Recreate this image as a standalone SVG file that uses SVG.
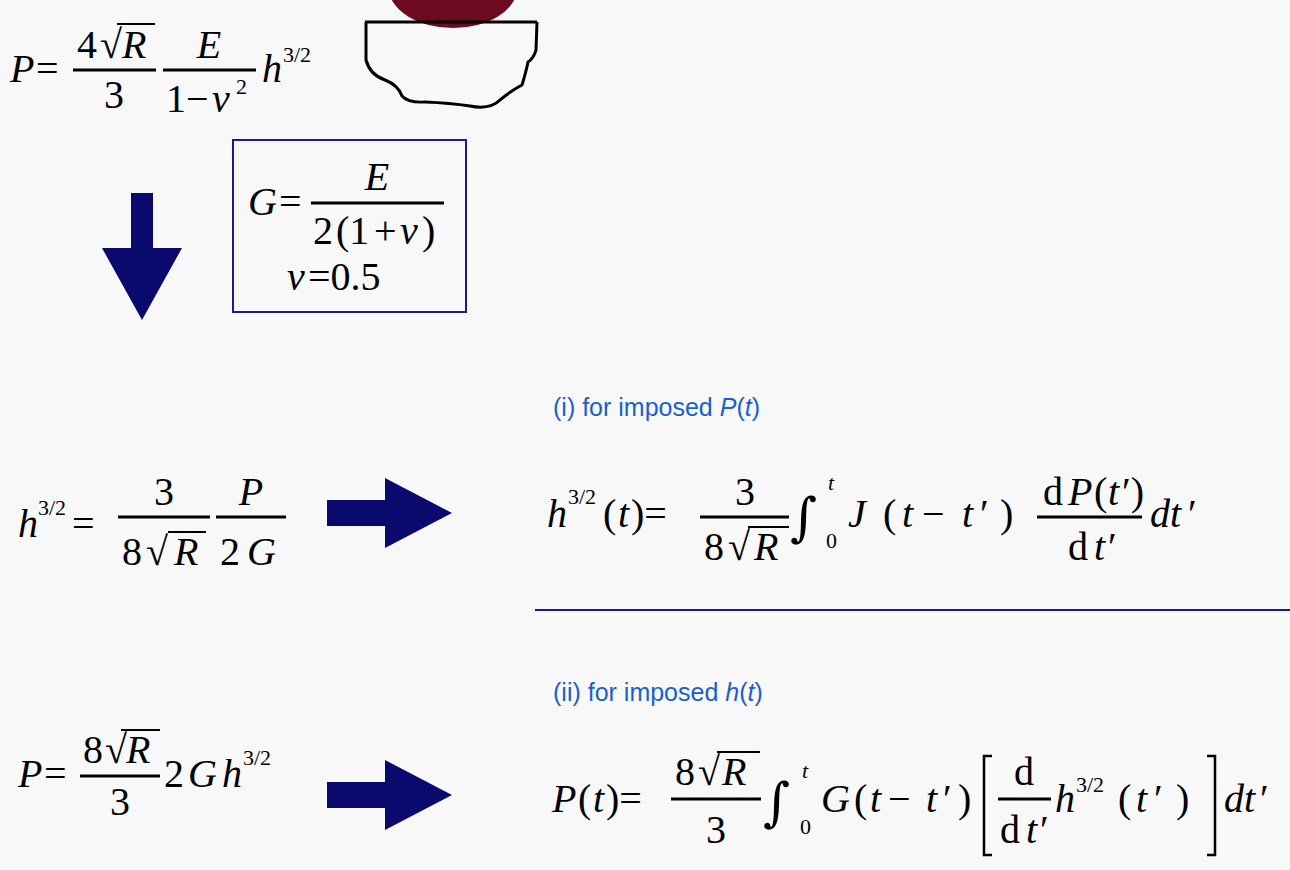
<svg xmlns="http://www.w3.org/2000/svg" width="1290" height="870" viewBox="0 0 1290 870">
<style>
.m{font-family:"Liberation Serif",serif;font-size:40px;fill:#000}
.i{font-style:italic}
.s{font-family:"Liberation Serif",serif;font-size:22px;fill:#000}
.int{font-family:"DejaVu Serif",serif;font-size:52px;fill:#000}
.b{font-family:"Liberation Sans",sans-serif;font-size:25px;fill:#1a5fcf}
.bar{stroke:#000;stroke-width:3}
.rt{stroke:#000;stroke-width:1.8}
.arr{fill:#0a0a6e}
</style>
<rect width="1290" height="870" fill="#f8f8f8"/>
<g id="indenter">
<ellipse cx="453" cy="-12" rx="64" ry="40" fill="#6b0a20"/>
<line x1="365" y1="22" x2="537" y2="22" stroke="#000" stroke-width="3"/>
<path d="M366 22 L366 60 Q370 75 385 80 Q398 85 402 96 Q408 103 425 102 Q450 103 470 106 Q490 110 500 100 Q512 90 522 85 Q526 72 528 62 Q534 58 536 50 L537 22" fill="none" stroke="#000" stroke-width="3"/>
</g>
<g id="eq1">
<text class="m i" x="10" y="82">P</text><text class="m" x="36" y="82">=</text>
<text class="m" x="77" y="58">4</text><text class="m" x="100" y="58">√</text><text class="m i" x="122" y="58">R</text>
<line class="rt" x1="117" y1="24" x2="155" y2="24"/>
<line class="bar" x1="73" y1="70" x2="156" y2="70"/>
<text class="m" x="114" y="108" text-anchor="middle">3</text>
<text class="m i" x="209" y="58" text-anchor="middle">E</text>
<line class="bar" x1="163" y1="70" x2="256" y2="70"/>
<text class="m" x="166" y="112">1</text><text class="m" x="186" y="112">−</text><text class="m i" x="212" y="112">ν</text><text class="s" x="236" y="94">2</text>
<text class="m i" x="262" y="82">h</text><text class="s" x="283" y="62">3/2</text>
</g>
<g id="arrow-down"><path class="arr" d="M131 193 L153 193 L153 248 L182 248 L142 320 L102 248 L131 248 Z"/></g>
<g id="box">
<rect x="233" y="140" width="233" height="172" fill="none" stroke="#1a1a8c" stroke-width="2"/>
<text class="m i" x="248" y="215">G</text><text class="m" x="279" y="215">=</text>
<text class="m i" x="377" y="190" text-anchor="middle">E</text>
<line class="bar" x1="311" y1="203" x2="444" y2="203"/>
<text class="m" x="313" y="244">2</text><text class="m" x="336" y="244">(1</text><text class="m" x="374" y="244">+</text><text class="m i" x="400" y="244">ν</text><text class="m" x="422" y="244">)</text>
<text class="m i" x="287" y="290">ν</text><text class="m" x="308" y="290">=0.5</text>
</g>
<g id="eq2">
<text class="m i" x="18" y="537">h</text><text class="s" x="38" y="515">3/2</text><text class="m" x="72" y="537">=</text>
<text class="m" x="164" y="505" text-anchor="middle">3</text>
<line class="bar" x1="118" y1="517" x2="210" y2="517"/>
<text class="m" x="122" y="565">8</text><text class="m" x="146" y="565">√</text><text class="m i" x="174" y="565">R</text>
<line class="rt" x1="168" y1="532" x2="206" y2="532"/>
<text class="m i" x="251" y="505" text-anchor="middle">P</text>
<line class="bar" x1="216" y1="517" x2="286" y2="517"/>
<text class="m" x="220" y="565">2</text><text class="m i" x="247" y="565">G</text>
</g>
<g id="label1"><text class="b" x="553" y="416">(i) for imposed <tspan font-style="italic">P</tspan>(<tspan font-style="italic">t</tspan>)</text></g>
<g id="eq3">
<text class="m i" x="547" y="527">h</text><text class="s" x="568" y="504">3/2</text>
<text class="m" x="603" y="527">(</text><text class="m i" x="618" y="527">t</text><text class="m" x="631" y="527">)=</text>
<text class="m" x="745" y="505" text-anchor="middle">3</text>
<line class="bar" x1="700" y1="517" x2="789" y2="517"/>
<text class="m" x="704" y="560">8</text><text class="m" x="728" y="560">√</text><text class="m i" x="754" y="560">R</text>
<line class="rt" x1="748" y1="527" x2="789" y2="527"/>
<text class="int" x="790" y="535">∫</text>
<text class="s i" x="828" y="490">t</text><text class="s" x="826" y="548">0</text>
<text class="m i" x="848" y="527">J</text><text class="m" x="883" y="527">(</text><text class="m i" x="902" y="527">t</text><text class="m" x="922" y="527">−</text><text class="m i" x="962" y="527">t</text><text class="m" x="980" y="527">′</text><text class="m" x="1000" y="527">)</text>
<text class="m" x="1043" y="505">d</text><text class="m i" x="1068" y="505">P</text><text class="m" x="1094" y="505">(</text><text class="m i" x="1108" y="505">t</text><text class="m" x="1122" y="505">′)</text>
<line class="bar" x1="1037" y1="517" x2="1142" y2="517"/>
<text class="m" x="1068" y="560">d</text><text class="m i" x="1094" y="560">t</text><text class="m" x="1108" y="560">′</text>
<text class="m i" x="1150" y="527">dt</text><text class="m" x="1188" y="527">′</text>
</g>
<line x1="535" y1="610" x2="1290" y2="610" stroke="#1a1a8c" stroke-width="2"/>
<g id="label2"><text class="b" x="553" y="701">(ii) for imposed <tspan font-style="italic">h</tspan>(<tspan font-style="italic">t</tspan>)</text></g>
<g id="eq4">
<text class="m i" x="18" y="787">P</text><text class="m" x="44" y="787">=</text>
<text class="m" x="83" y="763">8</text><text class="m" x="105" y="763">√</text><text class="m i" x="126" y="763">R</text>
<line class="rt" x1="121" y1="730" x2="160" y2="730"/>
<line class="bar" x1="80" y1="776" x2="160" y2="776"/>
<text class="m" x="120" y="815" text-anchor="middle">3</text>
<text class="m" x="164" y="787">2</text><text class="m i" x="188" y="787">G</text><text class="m i" x="222" y="787">h</text><text class="s" x="243" y="765">3/2</text>
</g>
<g id="arrows-right">
<path class="arr" d="M327 500 L385 500 L385 478 L452 513 L385 548 L385 526 L327 526 Z"/>
<path class="arr" d="M327 782 L385 782 L385 760 L452 795 L385 830 L385 808 L327 808 Z"/>
</g>
<g id="eq5">
<text class="m i" x="552" y="812">P</text><text class="m" x="578" y="812">(</text><text class="m i" x="593" y="812">t</text><text class="m" x="606" y="812">)=</text>
<text class="m" x="675" y="785">8</text><text class="m" x="698" y="785">√</text><text class="m i" x="722" y="785">R</text>
<line class="rt" x1="717" y1="752" x2="760" y2="752"/>
<line class="bar" x1="671" y1="799" x2="761" y2="799"/>
<text class="m" x="716" y="843" text-anchor="middle">3</text>
<text class="int" x="763" y="820">∫</text>
<text class="s i" x="802" y="778">t</text><text class="s" x="800" y="834">0</text>
<text class="m i" x="821" y="812">G</text><text class="m" x="854" y="812">(</text><text class="m i" x="870" y="812">t</text><text class="m" x="888" y="812">−</text><text class="m i" x="926" y="812">t</text><text class="m" x="943" y="812">′</text><text class="m" x="958" y="812">)</text>
<path d="M992 756 L984 756 L984 855 L992 855" fill="none" stroke="#000" stroke-width="2.5"/>
<text class="m" x="1024" y="785" text-anchor="middle">d</text>
<line class="bar" x1="998" y1="799" x2="1051" y2="799"/>
<text class="m" x="1000" y="843">d</text><text class="m i" x="1026" y="843">t</text><text class="m" x="1040" y="843">′</text>
<text class="m i" x="1055" y="812">h</text><text class="s" x="1076" y="792">3/2</text>
<text class="m" x="1118" y="812">(</text><text class="m i" x="1136" y="812">t</text><text class="m" x="1154" y="812">′</text><text class="m" x="1176" y="812">)</text>
<path d="M1207 756 L1215 756 L1215 855 L1207 855" fill="none" stroke="#000" stroke-width="2.5"/>
<text class="m i" x="1224" y="812">dt</text><text class="m" x="1260" y="812">′</text>
</g>
</svg>
